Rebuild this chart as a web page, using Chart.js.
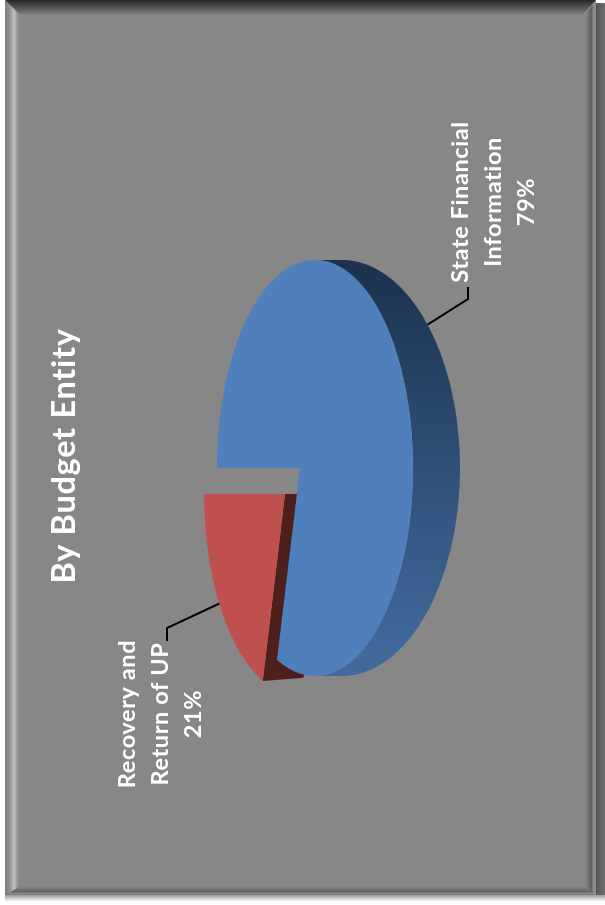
<!DOCTYPE html>
<html><head><meta charset="utf-8">
<script src="https://cdn.jsdelivr.net/npm/chart.js@4"></script>
<style>
html,body{margin:0;padding:0;background:#fff;width:605px;height:905px;overflow:hidden}
.f{position:absolute}
#wrap{position:absolute;left:0;top:905px;width:905px;height:605px;transform-origin:0 0;transform:rotate(-90deg)}
</style></head><body>
<div class="f" style="left:596px;top:3px;width:9px;height:894px;background:linear-gradient(90deg,#555,#6e6e6e)"></div>
<div class="f" style="left:5px;top:895px;width:600px;height:6px;background:linear-gradient(180deg,#999,#f4f4f4)"></div>
<div class="f" style="left:5px;top:0;width:591px;height:895px;background:#878787"></div>
<div class="f" style="left:5px;top:0;width:591px;height:14px;background:linear-gradient(180deg,#262626,#7c7c7c);clip-path:polygon(0 0,100% 0,97.8% 100%,2.4% 100%)"></div>
<div class="f" style="left:5px;top:0;width:14px;height:895px;background:linear-gradient(90deg,#7e7e7e,#8c8c8c 30%,#c2c2c2 65%,#9a9a9a 85%,#888);clip-path:polygon(0 0,100% 14px,100% 100%,0 100%)"></div>
<div class="f" style="left:586px;top:0;width:10px;height:895px;background:linear-gradient(90deg,#828282,#666 45%,#5c5c5c 60%,#8e8e8e 70%,#8a8a8a 95%,#666);clip-path:polygon(0 14px,100% 0,100% 100%,0 889px)"></div>
<div class="f" style="left:5px;top:887px;width:591px;height:8px;background:linear-gradient(180deg,#828282,#626262 60%,#8a8a8a 80%,#777);clip-path:polygon(2.4% 0,98.3% 0,100% 100%,0 100%)"></div>
<div id="wrap"><canvas id="c" width="905" height="605"></canvas></div>
<script>
const categories = ['State Financial Information', 'Recovery and Return of UP'];
const values = [79, 21];
const labelLines = [['State Financial', 'Information'], ['Recovery and', 'Return of UP']];
const sliceColors = ['#4f80bc', '#c0504d'];
const titleText = 'By Budget Entity';

// view geometry of the tilted disc (canvas is turned a quarter turn on the page)
const CU = 437, CV = 315, RU = 208, RV = 98, TILT = 0.153, EXT = 0.985;
const RIM_V = 342, RIM_K = 1.204;
const looks = [
  { shift: [0, 0], scale: 1, depth: 48.5, wall: null },
  { shift: [-26, -15], scale: 0.975, depth: 40, wall: '#4f1f1d' }
];
const labelAt = [[703, 460], [191, 127]];
const elbows = [[[606, 468], [618, 468]], [[277, 167], [264, 167]]];

function project(phi, r) {
  const x = r * Math.sin(phi), y = r * Math.cos(phi), w = 1 + TILT * y;
  return [CU + RU * x * Math.sqrt(1 - TILT * TILT) / w, CV - RV * (y + TILT) / w];
}
const tip = project(0, 0);
function face(phi, r, l) {
  const p = project(phi, r);
  return [tip[0] + (p[0] - tip[0]) * l.scale + l.shift[0], tip[1] + (p[1] - tip[1]) * l.scale + l.shift[1]];
}
function ext(p, l) {
  return [CU + (p[0] - CU) * EXT, CV + (p[1] - CV) * EXT + l.depth];
}
function rimPoint(p) {
  return [p[0], RIM_V + (p[1] - CV) * RIM_K];
}
function poly(ctx, pts, fill) {
  ctx.beginPath();
  pts.forEach((p, i) => i ? ctx.lineTo(p[0], p[1]) : ctx.moveTo(p[0], p[1]));
  ctx.closePath();
  ctx.fillStyle = fill;
  ctx.fill();
}
const disc3d = {
  id: 'disc3d',
  beforeDraw(chart) { chart.ctx.letterSpacing = '0.7px'; },
  beforeDatasetDraw() { return false; },
  afterDatasetsDraw(chart) {
    const ctx = chart.ctx, arcs = chart.getDatasetMeta(0).data;
    const slices = arcs.map((a, i) => ({
      a0: a.startAngle + Math.PI / 2, a1: a.endAngle + Math.PI / 2, l: looks[i], color: sliceColors[i]
    }));
    const outer = s => {
      const out = [], n = 240;
      for (let k = 0; k <= n; k++) out.push(face(s.a0 + (s.a1 - s.a0) * k / n, 1, s.l));
      return out;
    };
    ctx.save();
    // exploded slice first, so the large slice overlaps it
    [slices[1], slices[0]].forEach(s => {
      const l = s.l, rim = outer(s);
      if (l.wall) {
        const t = face(0, 0, l), e = face(s.a0, 1, l);
        poly(ctx, [t, e, ext(e, l), ext(t, l)], l.wall);
      } else {
        const g = ctx.createLinearGradient(255, 0, 635, 0);
        g.addColorStop(0, '#41699c');
        g.addColorStop(1, '#1c3350');
        const lower = rim.filter(p => p[1] >= CV);
        poly(ctx, lower.concat(lower.map(rimPoint).reverse()), g);
      }
      poly(ctx, [face(0, 0, l)].concat(rim), s.color);
    });
    // leader lines and labels
    ctx.strokeStyle = '#000'; ctx.lineWidth = 2; ctx.lineJoin = 'miter';
    const total = values.reduce((a, b) => a + b, 0);
    slices.forEach((s, i) => {
      const mid = (s.a0 + s.a1) / 2;
      let anchor = face(mid, 1, s.l);
      if (!s.l.wall) anchor = rimPoint(anchor);
      ctx.beginPath();
      ctx.moveTo(anchor[0], anchor[1]);
      elbows[i].forEach(p => ctx.lineTo(p[0], p[1]));
      ctx.stroke();
      ctx.fillStyle = '#fff';
      ctx.letterSpacing = '0.6px';
      ctx.font = 'bold 23.5px Lato';
      ctx.textAlign = 'center'; ctx.textBaseline = 'middle';
      labelLines[i].concat(Math.round(values[i] / total * 100) + '%').forEach((t, k) => {
        ctx.fillText(t, labelAt[i][0], labelAt[i][1] + k * 33);
      });
    });
    ctx.restore();
  }
};
new Chart(document.getElementById('c'), {
  type: 'pie',
  data: { labels: categories, datasets: [{ data: values, backgroundColor: sliceColors }] },
  options: {
    responsive: false, animation: false, rotation: 0,
    layout: { padding: { right: 7 } },
    plugins: {
      legend: { display: false }, tooltip: { enabled: false },
      title: { display: true, text: titleText, color: '#fff', font: { family: 'Lato', size: 32.5, weight: 'bold' }, padding: { top: 45, bottom: 0 } }
    }
  },
  plugins: [disc3d]
});
</script>
</body></html>
